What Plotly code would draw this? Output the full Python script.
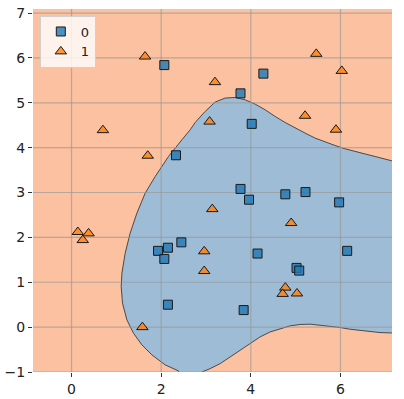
import plotly.graph_objects as go

# ---- data ----
class0_x = [2.07, 4.28, 3.77, 4.02, 2.33, 3.77, 4.77, 5.22, 3.96, 5.97,
            1.93, 2.15, 2.07, 2.45, 2.15, 4.15, 6.15, 5.02, 5.08, 3.84]
class0_y = [5.84, 5.65, 5.21, 4.53, 3.83, 3.08, 2.96, 3.01, 2.84, 2.78,
            1.70, 1.77, 1.52, 1.89, 0.50, 1.64, 1.70, 1.32, 1.26, 0.38]

class1_x = [1.64, 5.46, 6.03, 3.20, 0.70, 3.08, 5.21, 5.90, 1.70, 3.14,
            4.90, 2.96, 2.96, 4.77, 4.71, 5.03, 0.14, 0.38, 0.25, 1.58]
class1_y = [6.03, 6.09, 5.71, 5.46, 4.39, 4.58, 4.71, 4.40, 3.82, 2.63,
            2.32, 1.69, 1.25, 0.88, 0.74, 0.75, 2.12, 2.09, 1.94, 0.00]

# decision boundary of class 0 region (upper/left curve, then lower curve)
upper_x = [7.30, 7.144, 6.772, 6.549, 6.326, 6.103, 5.880, 5.657, 5.434, 5.211,
           4.988, 4.765, 4.542, 4.319, 4.096, 3.873, 3.650, 3.427, 3.204, 2.981,
           2.758, 2.647, 2.462, 2.163, 1.866, 1.643, 1.458, 1.308, 1.197, 1.124,
           1.108, 1.137, 1.235, 1.382, 1.570, 1.793, 2.090, 2.386, 2.42]
upper_y = [3.707, 3.707, 3.803, 3.856, 3.914, 3.974, 4.048, 4.124, 4.213, 4.324,
           4.436, 4.561, 4.695, 4.844, 4.971, 5.067, 5.118, 5.105, 5.016, 4.806,
           4.561, 4.398, 4.175, 3.803, 3.357, 2.986, 2.540, 2.095, 1.649, 1.203,
           0.904, 0.534, 0.162, -0.135, -0.396, -0.619, -0.842, -0.976, -1.2]
lower_x = [2.87, 2.907, 3.093, 3.316, 3.539, 3.762, 3.985, 4.207, 4.430, 4.653,
           4.876, 5.099, 5.322, 5.545, 5.768, 5.991, 6.214, 6.437, 6.660, 6.883,
           7.144, 7.30]
lower_y = [-1.2, -1.0, -0.924, -0.813, -0.665, -0.516, -0.366, -0.218, -0.107, -0.031,
           0.028, 0.059, 0.066, 0.042, 0.020, -0.009, -0.047, -0.076, -0.107, -0.121,
           -0.130, -0.130]

x_ticks = [0, 2, 4, 6]
y_ticks = [-1, 0, 1, 2, 3, 4, 5, 6, 7]

all_x = class0_x + class1_x
all_y = class0_y + class1_y
x_range = [min(all_x) - 1, max(all_x) + 1]
y_range = [min(all_y) - 1, max(all_y) + 1]

ORANGE_BG = "#fbc1a0"
BLUE_BG = "#9ebcd6"

fig = go.Figure()

# blue decision region
fig.add_trace(go.Scatter(
    x=upper_x + lower_x, y=upper_y + lower_y,
    mode="lines", fill="toself", fillcolor=BLUE_BG,
    line=dict(color="#4a4a4a", width=1), hoverinfo="skip", showlegend=False))

# grid lines (drawn above the regions, below the markers)
gx, gy = [], []
for t in x_ticks:
    gx += [t, t, None]
    gy += [y_range[0], y_range[1], None]
for t in y_ticks:
    gx += [x_range[0], x_range[1], None]
    gy += [t, t, None]
fig.add_trace(go.Scatter(x=gx, y=gy, mode="lines",
                         line=dict(color="rgba(150,150,150,0.65)", width=1.2),
                         hoverinfo="skip", showlegend=False))

fig.add_trace(go.Scatter(
    x=class0_x, y=class0_y, mode="markers", name="0",
    marker=dict(symbol="square", size=9, color="rgba(31,119,180,0.8)",
                line=dict(color="#1a1a1a", width=1))))
fig.add_trace(go.Scatter(
    x=class1_x, y=class1_y, mode="markers", name="1",
    marker=dict(symbol="triangle-up", size=10, color="rgba(255,127,14,0.8)",
                line=dict(color="#1a1a1a", width=1))))

axis_common = dict(showgrid=False, zeroline=False, showline=False, automargin=False,
                   ticks="outside", ticklen=4, tickwidth=1, tickcolor="#333",
                   tickfont=dict(family="DejaVu Sans", size=14, color="#222"))

fig.update_layout(
    width=404, height=399,
    margin=dict(l=33, r=12, t=9, b=27),
    paper_bgcolor="white", plot_bgcolor=ORANGE_BG,
    xaxis=dict(range=x_range, tickvals=x_ticks, **axis_common),
    yaxis=dict(range=y_range, tickvals=y_ticks, **axis_common),
    legend=dict(x=0.019, y=0.982, xanchor="left", yanchor="top",
                bgcolor="rgba(255,255,255,0.8)", bordercolor="#d0d0d0", borderwidth=1,
                font=dict(family="DejaVu Sans", size=13, color="#222"),
                tracegroupgap=0, itemwidth=30),
    showlegend=True,
)

fig.write_html("out.html", config={"displayModeBar": False},
               post_script="document.body.style.margin='0';document.body.style.padding='0';")
